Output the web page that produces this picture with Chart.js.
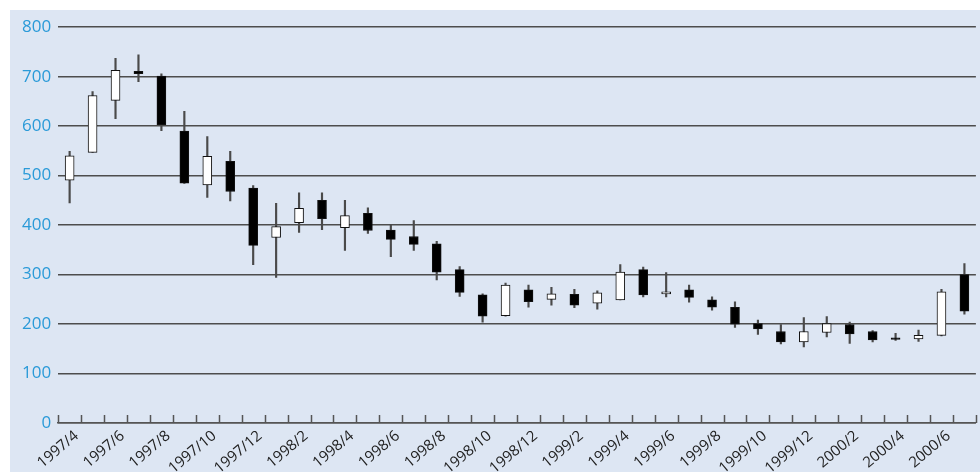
<!DOCTYPE html>
<html>
<head>
<meta charset="utf-8">
<script src="https://cdn.jsdelivr.net/npm/chart.js@4.4.1/dist/chart.umd.min.js"></script>
<style>
  html, body { margin: 0; padding: 0; background: #fff; }
  #wrap { position: absolute; left: 10px; top: 10px; width: 970px; height: 462px; background: #dde6f3; overflow: hidden; }
</style>
</head>
<body>
<div id="wrap"><canvas id="chart"></canvas></div>
<script>
// 月足データ (1997/4 - 2000/7)
const months = [
  '1997/4', '1997/5', '1997/6', '1997/7', '1997/8', '1997/9', '1997/10', '1997/11', '1997/12',
  '1998/1', '1998/2', '1998/3', '1998/4', '1998/5', '1998/6', '1998/7', '1998/8', '1998/9', '1998/10', '1998/11', '1998/12',
  '1999/1', '1999/2', '1999/3', '1999/4', '1999/5', '1999/6', '1999/7', '1999/8', '1999/9', '1999/10', '1999/11', '1999/12',
  '2000/1', '2000/2', '2000/3', '2000/4', '2000/5', '2000/6', '2000/7'
];
const open  = [491, 547, 652, 711, 701, 590, 481, 529, 475, 375, 405, 450, 395, 424, 390, 377, 362, 310, 259, 217,
               269, 250, 260, 242, 249, 310, 261, 269, 249, 234, 201, 185, 164, 183, 199, 185, 172, 170, 177, 300];
const close = [540, 662, 713, 706, 603, 485, 539, 468, 359, 397, 434, 413, 419, 389, 371, 361, 305, 264, 216, 279,
               245, 261, 238, 263, 305, 259, 265, 254, 234, 200, 190, 164, 185, 201, 180, 168, 169, 177, 265, 226];
const high  = [549, 670, 737, 744, 706, 630, 579, 549, 480, 444, 465, 465, 450, 435, 400, 409, 367, 316, 261, 283,
               279, 274, 270, 267, 320, 315, 304, 279, 255, 245, 208, 199, 213, 215, 204, 187, 181, 188, 270, 322];
const low   = [445, 547, 615, 690, 591, 484, 456, 449, 320, 294, 385, 391, 349, 383, 336, 349, 289, 256, 204, 216,
               234, 238, 233, 230, 249, 255, 255, 244, 228, 193, 179, 160, 154, 174, 161, 164, 167, 165, 176, 220];

const bodies = months.map((m, i) => [open[i], close[i]]);
const wicks = months.map((m, i) => [low[i], high[i]]);
const bodyColors = months.map((m, i) => close[i] >= open[i] ? '#ffffff' : '#000000');

// x軸の目盛り線を内側（上向き）に描く
const innerTicks = {
  id: 'innerTicks',
  afterDatasetsDraw(chart) {
    const xs = chart.scales.x;
    const n = chart.data.labels.length;
    const c = chart.ctx;
    c.save();
    c.strokeStyle = '#555';
    c.lineWidth = 1.5;
    c.beginPath();
    for (let i = 0; i <= n; i++) {
      const x = Math.round(xs.left + i * xs.width / n) + 0.5;
      c.moveTo(x, xs.top);
      c.lineTo(x, xs.top - 8);
    }
    c.stroke();
    c.restore();
  }
};

const ctx = document.getElementById('chart').getContext('2d');
new Chart(ctx, {
  type: 'bar',
  data: {
    labels: months,
    datasets: [
      {
        label: 'body',
        data: bodies,
        backgroundColor: bodyColors,
        borderColor: '#111',
        borderWidth: 1,
        borderSkipped: false,
        barThickness: 9,
        grouped: false,
        order: 0
      },
      {
        label: 'wick',
        data: wicks,
        backgroundColor: '#4a4a4a',
        barThickness: 1.5,
        grouped: false,
        order: 1
      }
    ]
  },
  options: {
    responsive: true,
    maintainAspectRatio: false,
    animation: false,
    layout: { padding: { left: 5, right: 1, top: 13, bottom: 0 } },
    plugins: { legend: { display: false }, tooltip: { enabled: false } },
    scales: {
      x: {
        afterFit(scale) { scale.height = 49; },
        grid: { display: false, drawTicks: false },
        border: { display: true, color: '#555', width: 1.5 },
        ticks: {
          autoSkip: false,
          minRotation: 40,
          maxRotation: 40,
          padding: 4,
          labelOffset: 7,
          color: '#222',
          font: { family: 'Open Sans', size: 15 },
          callback: (v, i) => i % 2 === 0 ? months[i] : ''
        }
      },
      y: {
        min: 0,
        max: 800,
        ticks: {
          stepSize: 100,
          padding: 7,
          color: '#2a9ad8',
          font: { family: 'Open Sans', size: 17 }
        },
        grid: { color: '#4d4d4d', lineWidth: 1.5, drawTicks: false },
        border: { display: false }
      }
    }
  },
  plugins: [innerTicks]
});
</script>
</body>
</html>
